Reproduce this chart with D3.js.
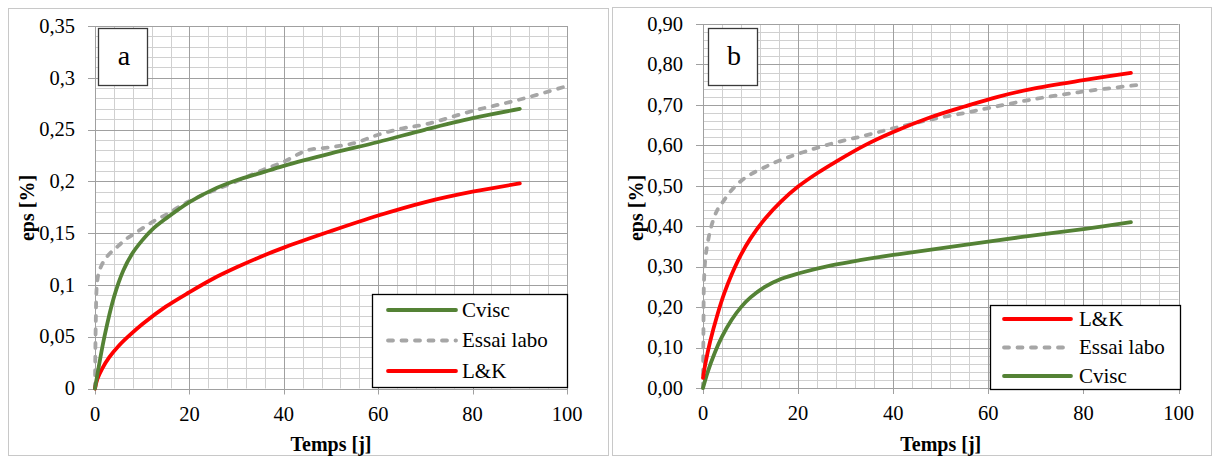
<!DOCTYPE html>
<html><head><meta charset="utf-8">
<script src="https://cdn.jsdelivr.net/npm/d3@7/dist/d3.min.js"></script>
<style>
body{margin:0;background:#fff;}
svg{display:block;}
</style></head>
<body><svg id="c" width="1213" height="459"></svg>
<script>
// ---------- DATA ----------
// Panel a
const aCviscT   = [0,2,4,6,8,10,12,15,20,25,30,35,40,50,60,70,80,90];
const aCviscV   = [0,0.05,0.088,0.114,0.131,0.143,0.153,0.164,0.18,0.192,0.201,0.208,0.215,0.227,0.238,0.25,0.261,0.27];
const aEssaiT   = [0,0.15,0.4,0.8,1.4,2.3,3.5,5,6.5,8.5,10.5,13,15.5,18,20.5,25,30,35,40,45,50,55,60,65,70,80,90,100];
const aEssaiV   = [0,0.06,0.1,0.112,0.119,0.126,0.132,0.138,0.144,0.15,0.156,0.163,0.169,0.176,0.182,0.191,0.2,0.21,0.219,0.23,0.233,0.237,0.245,0.251,0.255,0.268,0.279,0.292];
const aLKT      = [0,0.5,1.5,3,5,7,10,15,20,25,30,35,40,50,60,70,80,90];
const aLKV      = [0,0.009,0.019,0.03,0.041,0.05,0.062,0.079,0.093,0.106,0.117,0.127,0.136,0.152,0.167,0.18,0.19,0.198];
const aYTicks   = [0,0.05,0.1,0.15,0.2,0.25,0.3,0.35];
const aYLabels  = ["0","0,05","0,1","0,15","0,2","0,25","0,3","0,35"];
// Panel b
const bLKT      = [0,0.5,1.5,3,4.5,6,8,10,13,16.5,20,24,28,34,40,48,55,62,69,80,90];
const bLKV      = [0.025,0.06,0.115,0.18,0.235,0.28,0.33,0.37,0.418,0.462,0.498,0.531,0.56,0.6,0.633,0.67,0.696,0.72,0.739,0.761,0.779];
const bEssaiT   = [0,0.1,0.2,0.5,1,1.75,3,4,6,8,10,13,16,20,27,34,40,48,55,60,69,80,92];
const bEssaiV   = [0,0.15,0.26,0.32,0.36,0.4,0.44,0.457,0.489,0.512,0.528,0.546,0.562,0.579,0.604,0.624,0.642,0.664,0.68,0.692,0.713,0.733,0.75];
const bCviscT   = [0,1,2.5,4,6,8,10,13,16.5,20,27,33,40,48,60,70,80,90];
const bCviscV   = [0,0.04,0.088,0.127,0.168,0.2,0.224,0.25,0.27,0.283,0.303,0.316,0.329,0.342,0.362,0.378,0.393,0.41];
const bYTicks   = [0,0.1,0.2,0.3,0.4,0.5,0.6,0.7,0.8,0.9];
const bYLabels  = ["0,00","0,10","0,20","0,30","0,40","0,50","0,60","0,70","0,80","0,90"];
const xTicks    = [0,20,40,60,80,100];
const xLabel    = "Temps [j]";
const yLabel    = "eps [%]";

const COL = {Cvisc:"#548235", Essai:"#a6a6a6", LK:"#ff0000"};
const FONT = "'Liberation Serif','DejaVu Serif',serif";

const svg = d3.select("#c");

svg.append("rect").attr("x",8.5).attr("y",8.5).attr("width",600).attr("height",447)
  .attr("fill","none").attr("stroke","#c8c8c8").attr("stroke-width",1);
svg.append("rect").attr("x",612.5).attr("y",7.5).attr("width",599).attr("height",448)
  .attr("fill","none").attr("stroke","#c8c8c8").attr("stroke-width",1);

function txt(g){ return g.append("text").attr("font-family",FONT).attr("fill","#000"); }

function panel(cfg){
  const g = svg.append("g");
  const x = d3.scaleLinear().domain([0,100]).range(cfg.xr);
  const y = d3.scaleLinear().domain([0,cfg.ymax]).range(cfg.yr);
  const xMinor = d3.range(0,100.001,4);
  const yMinor = d3.range(0,cfg.ymax+1e-9,cfg.yminor);
  g.selectAll(".vmin").data(xMinor).enter().append("line")
    .attr("x1",d=>Math.round(x(d))+0.5).attr("x2",d=>Math.round(x(d))+0.5)
    .attr("y1",y(cfg.ymax)).attr("y2",y(0)).attr("stroke","#d0d0d0").attr("stroke-width",1);
  g.selectAll(".hmin").data(yMinor).enter().append("line")
    .attr("y1",d=>Math.round(y(d))+0.5).attr("y2",d=>Math.round(y(d))+0.5)
    .attr("x1",x(0)).attr("x2",x(100)).attr("stroke","#d0d0d0").attr("stroke-width",1);
  g.selectAll(".vmaj").data(xTicks).enter().append("line")
    .attr("x1",d=>Math.round(x(d))+0.5).attr("x2",d=>Math.round(x(d))+0.5)
    .attr("y1",y(cfg.ymax)).attr("y2",y(0)+6).attr("stroke","#a0a0a0").attr("stroke-width",1);
  g.selectAll(".hmaj").data(cfg.yticks).enter().append("line")
    .attr("y1",d=>Math.round(y(d))+0.5).attr("y2",d=>Math.round(y(d))+0.5)
    .attr("x1",x(0)-7).attr("x2",x(100)).attr("stroke","#a0a0a0").attr("stroke-width",1);
  cfg.yticks.forEach((d,i)=>{
    txt(g).attr("x",x(0)-20).attr("y",y(d)).attr("dy","0.33em")
      .attr("text-anchor","end").attr("font-size","20.5px").text(cfg.ylabels[i]);
  });
  xTicks.forEach(d=>{
    txt(g).attr("x",x(d)).attr("y",y(0)+32)
      .attr("text-anchor","middle").attr("font-size","20.5px").text(d);
  });
  txt(g).attr("x",(cfg.xr[0]+cfg.xr[1])/2).attr("y",451)
    .attr("text-anchor","middle").attr("font-size","20px").attr("font-weight","bold")
    .text(xLabel);
  txt(g).attr("transform",`translate(${cfg.ytx},208) rotate(-90)`)
    .attr("text-anchor","middle").attr("dy","0.32em").attr("font-size","20px").attr("font-weight","bold")
    .text(yLabel);
  const line = d3.line().x(d=>x(d[0])).y(d=>y(d[1])).curve(d3.curveCatmullRom.alpha(0.5));
  cfg.series.forEach(s=>{
    const pts = s.t.map((t,i)=>[t,s.v[i]]);
    g.append("path").datum(pts).attr("d",line).attr("fill","none")
      .attr("stroke",COL[s.key]).attr("stroke-width",3.8)
      .attr("stroke-linecap","round").attr("stroke-linejoin","round")
      .attr("stroke-dasharray",s.key==="Essai"?"5,8.5":null);
  });
  const lb = cfg.letterBox;
  g.append("rect").attr("x",lb[0]+0.5).attr("y",lb[1]+0.5).attr("width",49).attr("height",57)
    .attr("fill","#fff").attr("stroke","#3a3a3a").attr("stroke-width",1.3);
  txt(g).attr("x",lb[0]+26).attr("y",lb[1]+37).attr("text-anchor","middle")
    .attr("font-size","28px").text(cfg.letter);
  const L = cfg.legend;
  g.append("rect").attr("x",L.x+0.5).attr("y",L.y+0.5).attr("width",L.w).attr("height",L.h)
    .attr("fill","#fff").attr("stroke","#000").attr("stroke-width",1.3);
  L.items.forEach((it,i)=>{
    const yy = L.y0 + i*L.dy;
    g.append("line").attr("x1",L.lx1).attr("x2",L.lx2).attr("y1",yy).attr("y2",yy)
      .attr("stroke",COL[it.key]).attr("stroke-width",3.8).attr("stroke-linecap","round")
      .attr("stroke-dasharray",it.key==="Essai"?"5,8.5":null);
    txt(g).attr("x",L.tx).attr("y",yy).attr("dy","0.33em")
      .attr("font-size","21px").text(it.name);
  });
}

panel({
  xr:[95,567], yr:[388.5,26], ymax:0.35, yminor:0.01,
  yticks:aYTicks, ylabels:aYLabels, ytx:28,
  series:[
    {key:"Essai",t:aEssaiT,v:aEssaiV},
    {key:"LK",t:aLKT,v:aLKV},
    {key:"Cvisc",t:aCviscT,v:aCviscV}
  ],
  letterBox:[98,28], letter:"a",
  legend:{x:372,y:294,w:195,h:93,y0:310,dy:30.5,lx1:388,lx2:456,tx:462,
    items:[{key:"Cvisc",name:"Cvisc"},{key:"Essai",name:"Essai labo"},{key:"LK",name:"L&K"}]}
});
panel({
  xr:[703,1178.5], yr:[388,24], ymax:0.9, yminor:0.02,
  yticks:bYTicks, ylabels:bYLabels, ytx:637,
  series:[
    {key:"Essai",t:bEssaiT,v:bEssaiV},
    {key:"Cvisc",t:bCviscT,v:bCviscV},
    {key:"LK",t:bLKT,v:bLKV}
  ],
  letterBox:[708,28], letter:"b",
  legend:{x:990,y:305,w:190,h:84,y0:319,dy:28.5,lx1:1004,lx2:1071,tx:1079,
    items:[{key:"LK",name:"L&K"},{key:"Essai",name:"Essai labo"},{key:"Cvisc",name:"Cvisc"}]}
});
</script></body></html>
